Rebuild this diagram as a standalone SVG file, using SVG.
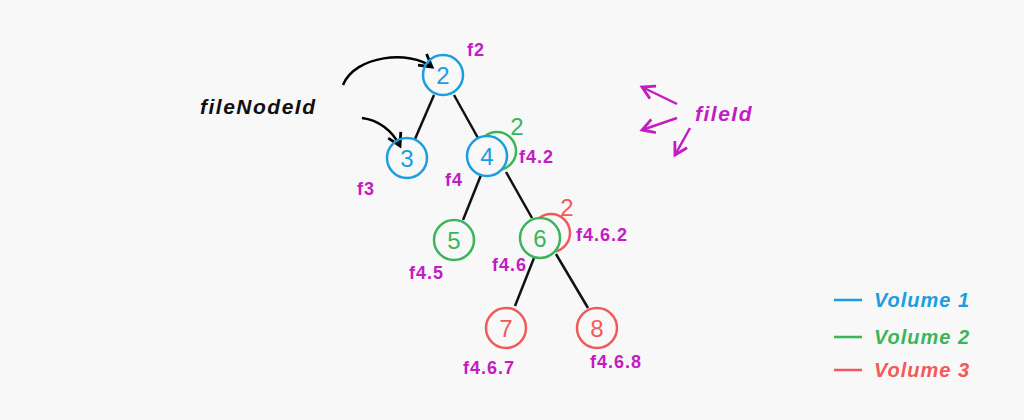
<svg xmlns="http://www.w3.org/2000/svg" width="1024" height="420" viewBox="0 0 1024 420">
<defs>
<marker id="ah" viewBox="0 0 10 10" refX="8" refY="5" markerWidth="7" markerHeight="7" orient="auto"><path d="M1,1 L8,5 L1,9" fill="none" stroke="#000" stroke-width="1.6"/></marker>
<marker id="mh" viewBox="0 0 10 10" refX="8" refY="5" markerWidth="7" markerHeight="7" orient="auto"><path d="M1,1 L8,5 L1,9" fill="none" stroke="#c21cc2" stroke-width="1.6"/></marker>
</defs>
<style>
.b{fill:none;stroke:#1a9ee0;stroke-width:2.5}
.g{fill:none;stroke:#3cb55a;stroke-width:2.5}
.r{fill:none;stroke:#f25a5a;stroke-width:2.5}
.f{fill:#f8f8f8}
.n{font-family:"Liberation Sans",sans-serif;font-size:24px;text-anchor:middle}
.m{font-family:"Liberation Sans",sans-serif;font-size:18px;font-weight:bold;fill:#c21cc2;letter-spacing:1px}
.e{stroke:#111;stroke-width:2.5}
</style>
<rect width="1024" height="420" fill="#f8f8f8"/>
<g id="edges">
<line class="e" x1="434" y1="95" x2="415" y2="139"/>
<line class="e" x1="454" y1="95" x2="478" y2="138"/>
<line class="e" x1="481" y1="175" x2="463" y2="220"/>
<line class="e" x1="506" y1="172" x2="532" y2="218"/>
<line class="e" x1="534" y1="258" x2="515" y2="306"/>
<line class="e" x1="556" y1="254" x2="588" y2="308"/>
<path d="M343,85 C355,55 410,50 432,67" fill="none" stroke="#000" stroke-width="2.5" marker-end="url(#ah)"/>
<path d="M362,118 C378,120 392,130 400,146" fill="none" stroke="#000" stroke-width="2.5" marker-end="url(#ah)"/>
<line x1="677" y1="104" x2="642" y2="87" stroke="#c21cc2" stroke-width="2.5" marker-end="url(#mh)"/>
<line x1="677" y1="118" x2="642" y2="130" stroke="#c21cc2" stroke-width="2.5" marker-end="url(#mh)"/>
<line x1="690" y1="128" x2="675" y2="155" stroke="#c21cc2" stroke-width="2.5" marker-end="url(#mh)"/>
</g>
<g id="n2"><circle class="b" cx="443" cy="75" r="20"/><text class="n" x="443" y="84" fill="#1a9ee0">2</text><text class="m" x="467" y="56">f2</text></g>
<g id="n3"><circle class="b" cx="407" cy="158" r="20"/><text class="n" x="407" y="167" fill="#1a9ee0">3</text><text class="m" x="357" y="195">f3</text></g>
<g id="n4"><circle class="g" cx="497" cy="151" r="19"/><text x="517" y="135" class="n" fill="#3cb55a" font-size="20">2</text><circle class="b f" cx="487" cy="156" r="20" style="fill:#f8f8f8"/><text class="n" x="487" y="165" fill="#1a9ee0">4</text><text class="m" x="519" y="163">f4.2</text><text class="m" x="445" y="186">f4</text></g>
<g id="n5"><circle class="g" cx="454" cy="240" r="20"/><text class="n" x="454" y="249" fill="#3cb55a">5</text><text class="m" x="409" y="279">f4.5</text></g>
<g id="n6"><circle class="r" cx="551" cy="233" r="19"/><text x="567" y="216" class="n" fill="#f25a5a" font-size="20">2</text><circle class="g" cx="540" cy="238" r="20" style="fill:#f8f8f8"/><text class="n" x="540" y="247" fill="#3cb55a">6</text><text class="m" x="576" y="241">f4.6.2</text><text class="m" x="492" y="271">f4.6</text></g>
<g id="n7"><circle class="r" cx="506" cy="328" r="20"/><text class="n" x="506" y="337" fill="#f25a5a">7</text><text class="m" x="463" y="374">f4.6.7</text></g>
<g id="n8"><circle class="r" cx="597" cy="328" r="20"/><text class="n" x="597" y="337" fill="#f25a5a">8</text><text class="m" x="590" y="368">f4.6.8</text></g>
<g id="labels">
<text x="200" y="114" font-family="Liberation Sans,sans-serif" font-size="21" font-weight="bold" font-style="italic" fill="#111" letter-spacing="1.5">fileNodeId</text>
<text x="695" y="121" font-family="Liberation Sans,sans-serif" font-size="21" font-weight="bold" font-style="italic" fill="#c21cc2" letter-spacing="1.5">fileId</text>
</g>
<g id="legend" font-family="Liberation Sans,sans-serif" font-size="20" font-weight="bold" font-style="italic" letter-spacing="1">
<line x1="834" y1="300" x2="862" y2="300" stroke="#1a9ee0" stroke-width="2.5"/><text x="874" y="307" fill="#1a9ee0">Volume 1</text>
<line x1="834" y1="337" x2="862" y2="337" stroke="#3cb55a" stroke-width="2.5"/><text x="874" y="344" fill="#3cb55a">Volume 2</text>
<line x1="834" y1="370" x2="862" y2="370" stroke="#f25a5a" stroke-width="2.5"/><text x="874" y="377" fill="#f25a5a">Volume 3</text>
</g>
</svg>
